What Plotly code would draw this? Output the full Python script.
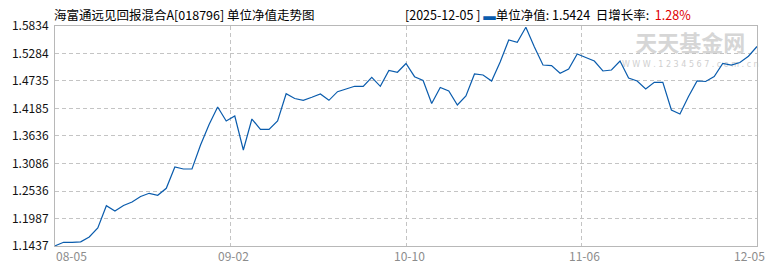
import numpy as np
import plotly.graph_objects as go

# ---- data ----
NAV = [1.1440, 1.1511, 1.1511, 1.1521, 1.1617, 1.1797, 1.2242, 1.2137, 1.2246, 1.2316,
       1.2426, 1.2490, 1.2450, 1.2590, 1.3016, 1.2976, 1.2976, 1.3456, 1.3865, 1.4215,
       1.3935, 1.4035, 1.3356, 1.3975, 1.3769, 1.3769, 1.3935, 1.4481, 1.4385, 1.4349,
       1.4409, 1.4475, 1.4349, 1.4521, 1.4575, 1.4629, 1.4629, 1.4809, 1.4629, 1.4945,
       1.4909, 1.5084, 1.4821, 1.4745, 1.4285, 1.4605, 1.4535, 1.4255, 1.4435, 1.4875,
       1.4855, 1.4735, 1.5114, 1.5554, 1.5508, 1.5810, 1.5414, 1.5054, 1.5044, 1.4889,
       1.4975, 1.5274, 1.5204, 1.5134, 1.4935, 1.4955, 1.5134, 1.4795, 1.4735, 1.4575,
       1.4709, 1.4709, 1.4155, 1.4075, 1.4425, 1.4735, 1.4725, 1.4825, 1.5084, 1.5054,
       1.5104, 1.5229, 1.5424]
X_LABELS = ["08-05", "09-02", "10-10", "11-06", "12-05"]
Y_TICKS = [1.1437, 1.1987, 1.2536, 1.3086, 1.3636, 1.4185, 1.4735, 1.5284, 1.5834]
TITLE = "海富通远见回报混合A[018796] 单位净值走势图"
LAST_DATE = "2025-12-05"
LAST_NAV = "1.5424"
LAST_CHG = "1.28%"

idx = np.arange(len(NAV))
x_tick_pos = np.linspace(0, len(NAV) - 1, len(X_LABELS))

LINE = "#0a5cad"
GRID = "#c4c4c4"
FONT = "Noto Sans CJK SC"

fig = go.Figure(go.Scatter(x=idx, y=NAV, mode="lines",
                           line=dict(color=LINE, width=1.2), hoverinfo="skip"))

fig.update_layout(
    width=770, height=270,
    margin=dict(l=53, r=12, t=26, b=24),
    paper_bgcolor="white", plot_bgcolor="white",
    showlegend=False,
    font=dict(family=FONT, size=12, color="black"),
)
fig.update_xaxes(range=[0, len(NAV) - 1], tickvals=list(x_tick_pos[1:-1]),
                 showticklabels=False, ticks="",
                 showgrid=True, gridcolor=GRID, griddash="4px,3px", gridwidth=1,
                 showline=True, mirror=True, linecolor="#b8b8b8", linewidth=1,
                 zeroline=False)
fig.update_yaxes(range=[Y_TICKS[0], Y_TICKS[-1]], tickvals=Y_TICKS,
                 ticktext=[f"{v:.4f}" for v in Y_TICKS], ticks="",
                 tickfont=dict(family=FONT, size=12, color="#111"),
                 ticklabelstandoff=3,
                 showgrid=True, gridcolor=GRID, griddash="4px,3px", gridwidth=1,
                 showline=True, mirror=True, linecolor="#b8b8b8", linewidth=1,
                 zeroline=False)

ann = []
n_lab = len(X_LABELS)
for i, (pos, lab) in enumerate(zip(x_tick_pos, X_LABELS)):
    if i == 0:
        anchor, shift = "left", -1
    elif i == n_lab - 1:
        anchor, shift = "right", 10
    else:
        anchor, shift = "center", 3
    ann.append(dict(x=pos, y=-0.045, xref="x", yref="paper", text=lab,
                    showarrow=False, xanchor=anchor, xshift=shift,
                    yanchor="middle",
                    font=dict(family=FONT, size=12, color="#8c8c8c")))
ann.append(dict(x=0, y=1.05, xref="paper", yref="paper", text=TITLE,
                showarrow=False, xanchor="left", yanchor="middle", xshift=-3,
                font=dict(family=FONT, size=12.5, color="black")))
hdr = (f"[{LAST_DATE}&nbsp;]&nbsp;<span style='color:{LINE}'>▬</span>单位净值:&nbsp;{LAST_NAV}"
       f"&nbsp;&nbsp;日增长率:&nbsp;&nbsp;<span style='color:#e00000'>{LAST_CHG}</span>")
ann.append(dict(x=(405 - 53) / 705, y=1.05, xref="paper", yref="paper", text=hdr,
                showarrow=False, xanchor="left", yanchor="middle", xshift=-3,
                font=dict(family=FONT, size=12.5, color="black")))
fig.update_layout(annotations=ann)

fig.update_layout(shapes=[
    dict(type="rect", xref="paper", yref="paper", x0=0.82, x1=0.99, y0=0.86, y1=0.97,
         line=dict(width=0), fillcolor="rgba(0,0,0,0)", layer="below",
         label=dict(text="<b>天天基金网</b>", textposition="middle center",
                    font=dict(family=FONT, size=22, color="#d6d6d6"))),
    dict(type="rect", xref="paper", yref="paper", x0=0.82, x1=0.99, y0=0.80, y1=0.86,
         line=dict(width=0), fillcolor="rgba(0,0,0,0)", layer="below",
         label=dict(text="W W W . 1 2 3 4 5 6 7 . c o m . c n", textposition="middle center",
                    font=dict(family="DejaVu Sans", size=8, color="#cfcfcf"))),
])

fig.write_html("out.html")
